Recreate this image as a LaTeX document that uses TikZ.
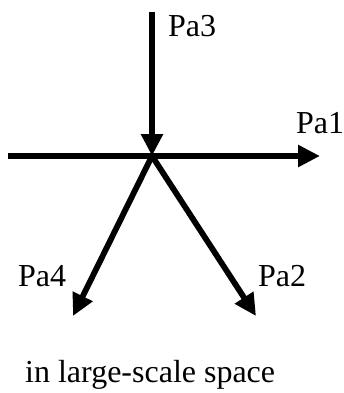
\documentclass[tikz,border=0pt]{standalone}
\usepackage{fontspec}
\setmainfont{Liberation Serif}
\usetikzlibrary{arrows.meta}
\begin{document}
\begin{tikzpicture}[x=1pt,y=-1pt,
  axis/.style={line width=5.8pt},
  arr/.style={line width=5.8pt,-{Triangle[length=22pt,width=21pt]}},
  lbl/.style={anchor=base west,inner sep=0pt,font=\fontsize{32}{32}\selectfont}]
\useasboundingbox (0,0) rectangle (344,393);
\coordinate (c) at (152,156);
\coordinate (l) at (8,156);
\coordinate (r) at (320,156);
\coordinate (t) at (152,12);
\coordinate (p4) at (73,316);
\coordinate (p2) at (256,316);
\draw[axis] (l) -- (c);
\draw[arr] (c) -- (r);
\draw[arr] (t) -- (c);
\draw[arr] (c) -- (p4);
\draw[arr] (c) -- (p2);
\node[lbl] (la3) at (168,37) {Pa3};
\node[lbl] (la1) at (296,133) {Pa1};
\node[lbl] (la4) at (18,286) {Pa4};
\node[lbl] (la2) at (258,286) {Pa2};
\node[lbl] (cap) at (25,382) {in large-scale space};
\end{tikzpicture}
\end{document}
